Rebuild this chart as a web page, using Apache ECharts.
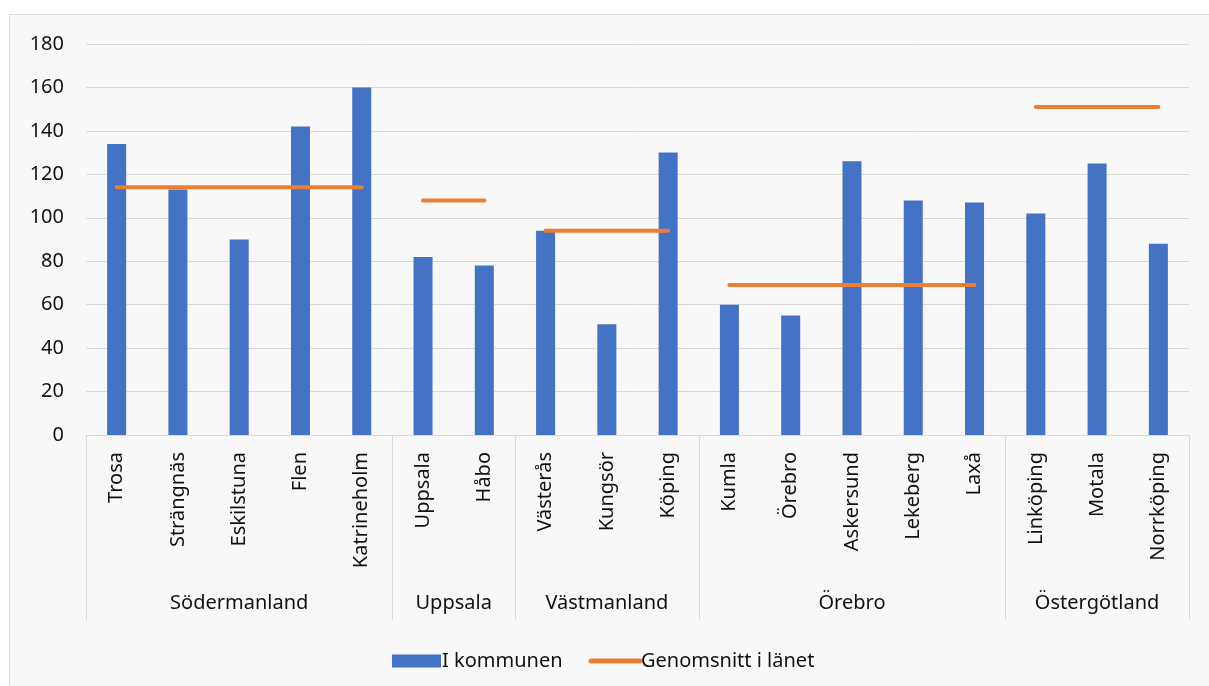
<!DOCTYPE html>
<html>
<head>
<meta charset="utf-8">
<script src="https://cdn.jsdelivr.net/npm/echarts@6/dist/echarts.min.js"></script>
<style>
  body { margin: 0; background: #fff; }
  #chart { position: absolute; left: 9px; top: 14px; width: 1200px; height: 672px;
           border: 1px solid #d9d9d9; background: #f8f8f8; }
</style>
</head>
<body>
<div id="chart"></div>
<script>
const kommuner = ['Trosa', 'Strängnäs', 'Eskilstuna', 'Flen', 'Katrineholm',
    'Uppsala', 'Håbo',
    'Västerås', 'Kungsör', 'Köping',
    'Kumla', 'Örebro', 'Askersund', 'Lekeberg', 'Laxå',
    'Linköping', 'Motala', 'Norrköping'];
const iKommunen = [134, 113, 90, 142, 160, 82, 78, 94, 51, 130, 60, 55, 126, 108, 107, 102, 125, 88];
const lan = ['Södermanland', 'Uppsala', 'Västmanland', 'Örebro', 'Östergötland'];
const lanSize = [5, 2, 3, 5, 3];
const lanSnitt = [114, 108, 94, 69, 151];
const yTicks = [0, 20, 40, 60, 80, 100, 120, 140, 160, 180];

const font = 'Noto Sans';
const textColor = '#111';
const lineGray = '#d9d9d9';

// one line series per län, only drawn over that län's kommuner
let bounds = [0];
let centers = [];
let lineSeries = [];
let start = 0;
lan.forEach((name, i) => {
    let end = start + lanSize[i];
    bounds.push(end);
    centers.push((start + end) / 2);
    let data = kommuner.map((k, j) => (j >= start && j < end) ? lanSnitt[i] : null);
    lineSeries.push({
        name: 'Genomsnitt i länet',
        type: 'line',
        data: data,
        symbol: 'none',
        z: 5,
        lineStyle: { color: '#ED7D31', width: 4, cap: 'round' },
        itemStyle: { color: '#ED7D31' }
    });
    start = end;
});

let chart = echarts.init(document.getElementById('chart'));
chart.setOption({
    animation: false,
    textStyle: { fontFamily: font },
    grid: { left: 76, right: 21, top: 29, bottom: 252, containLabel: false },
    legend: {
        left: 377, top: 631,
        itemWidth: 49, itemHeight: 13, itemGap: 26,
        textStyle: { fontFamily: font, fontSize: 20, color: textColor, padding: [0, 0, 0, -4] },
        data: [
            { name: 'I kommunen', icon: 'rect' },
            { name: 'Genomsnitt i länet', itemStyle: { opacity: 0 },
              lineStyle: { width: 5, cap: 'round', color: '#ED7D31' } }
        ]
    },
    xAxis: [{
        type: 'category',
        data: kommuner,
        axisLine: { lineStyle: { color: lineGray } },
        axisTick: { show: false },
        axisLabel: { rotate: 90, margin: 17, fontSize: 20, color: textColor, fontFamily: font, interval: 0 }
    }, {
        type: 'value',
        min: 0, max: 18,
        position: 'bottom',
        axisLine: { show: false },
        splitLine: { show: false },
        axisTick: { show: true, customValues: bounds, length: 185, lineStyle: { color: lineGray } },
        axisLabel: {
            customValues: centers, margin: 158, fontSize: 20, color: textColor, fontFamily: font,
            formatter: v => lan[centers.indexOf(v)] || ''
        }
    }],
    yAxis: {
        type: 'value',
        min: 0, max: 180, interval: 20,
        axisLine: { show: false },
        axisTick: { show: false },
        splitLine: { lineStyle: { color: lineGray } },
        axisLabel: { margin: 22, fontSize: 20, color: textColor, fontFamily: font,
            formatter: v => yTicks.includes(v) ? String(v) : '' }
    },
    series: [{
        name: 'I kommunen',
        type: 'bar',
        data: iKommunen,
        barWidth: 19,
        itemStyle: { color: '#4472C4' }
    }].concat(lineSeries)
});
</script>
</body>
</html>
